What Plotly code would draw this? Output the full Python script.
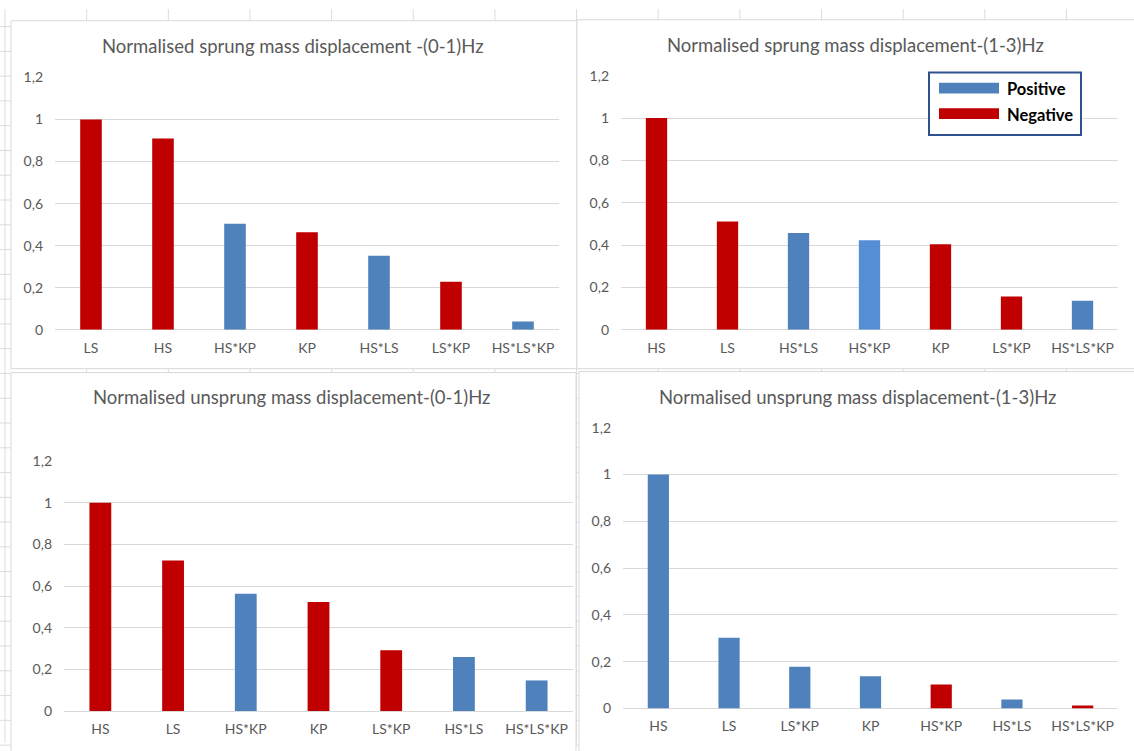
import plotly.graph_objects as go

# ---- data -------------------------------------------------------------
titles = [
    "Normalised sprung mass displacement -(0-1)Hz",
    "Normalised sprung mass displacement-(1-3)Hz",
    "Normalised unsprung mass displacement-(0-1)Hz",
    "Normalised unsprung mass displacement-(1-3)Hz",
]

sprung_low_factors = ["LS", "HS", "HS*KP", "KP", "HS*LS", "LS*KP", "HS*LS*KP"]
sprung_low_values = [1.0, 0.91, 0.505, 0.464, 0.352, 0.229, 0.04]
sprung_low_signs = ["-", "-", "+", "-", "+", "-", "+"]

sprung_high_factors = ["HS", "LS", "HS*LS", "HS*KP", "KP", "LS*KP", "HS*LS*KP"]
sprung_high_values = [1.0, 0.512, 0.457, 0.423, 0.404, 0.157, 0.138]
sprung_high_signs = ["-", "-", "+", "+", "-", "-", "+"]

unsprung_low_factors = ["HS", "LS", "HS*KP", "KP", "LS*KP", "HS*LS", "HS*LS*KP"]
unsprung_low_values = [1.0, 0.723, 0.563, 0.524, 0.292, 0.26, 0.147]
unsprung_low_signs = ["-", "-", "+", "-", "-", "+", "+"]

unsprung_high_factors = ["HS", "LS", "LS*KP", "KP", "HS*KP", "HS*LS", "HS*LS*KP"]
unsprung_high_values = [1.0, 0.302, 0.178, 0.138, 0.102, 0.038, 0.013]
unsprung_high_signs = ["+", "+", "+", "+", "-", "+", "-"]

y_ticks = [0, 0.2, 0.4, 0.6, 0.8, 1.0, 1.2]
y_tick_text = ["0", "0,2", "0,4", "0,6", "0,8", "1", "1,2"]

legend_labels = ["Positive", "Negative"]

# ---- style ------------------------------------------------------------
W, H = 1134, 751
POS = "#4F81BD"
POS_LIGHT = "#558ED5"
NEG = "#C00000"
GRID = "#D9D9D9"
SHEET = "#DCDCDC"
TEXT = "#595959"
FONT = "Lato, 'Open Sans', sans-serif"

sign_color = {"+": POS, "-": NEG}


def px_x(x):
    return x / W


def px_y(y):
    return 1 - y / H


panels = [
    # factors, values, signs, plot box (left, right, top, bottom) in px,
    # title centre, panel frame
    dict(f=sprung_low_factors, v=sprung_low_values, s=sprung_low_signs,
         box=(55, 559, 70, 328.3), tc=(293, 38), frame=(11, 577, 12, 368)),
    dict(f=sprung_high_factors, v=sprung_high_values, s=sprung_high_signs,
         box=(621, 1118, 68.3, 328.3), tc=(855, 37), frame=(577, 1160, 11, 368)),
    dict(f=unsprung_low_factors, v=unsprung_low_values, s=unsprung_low_signs,
         box=(64, 573, 462.7, 718.3), tc=(291, 397), frame=(11, 576, 372, 770)),
    dict(f=unsprung_high_factors, v=unsprung_high_values, s=unsprung_high_signs,
         box=(623, 1118, 428.3, 715.7), tc=(857, 397), frame=(579, 1160, 371, 770)),
]

fig = go.Figure()
shapes = []
annotations = []

# worksheet cell lines behind the charts
for k in range(15):
    cx = 5 + 81.65 * k
    shapes.append(dict(type="line", xref="paper", yref="paper", layer="below",
                       x0=px_x(cx), x1=px_x(cx), y0=0, y1=1,
                       line=dict(color=SHEET, width=1)))
for k in range(31):
    ry = 18 + 25.35 * k
    shapes.append(dict(type="line", xref="paper", yref="paper", layer="below",
                       x0=0, x1=1, y0=px_y(ry), y1=px_y(ry),
                       line=dict(color=SHEET, width=1)))

for i, p in enumerate(panels, start=1):
    xa = "x" if i == 1 else f"x{i}"
    ya = "y" if i == 1 else f"y{i}"
    colors = [sign_color[s] for s in p["s"]]
    if i == 2:
        colors[p["f"].index("HS*KP")] = POS_LIGHT
    fig.add_trace(go.Bar(
        x=p["f"], y=p["v"], xaxis=xa, yaxis=ya,
        marker=dict(color=colors, line=dict(width=0)),
        showlegend=False, hoverinfo="x+y",
    ))
    l, r, t, b = p["box"]
    fig.layout[f"xaxis{'' if i == 1 else i}"] = dict(
        domain=[px_x(l), px_x(r)], anchor=ya, type="category",
        showgrid=False, showline=False, zeroline=False, ticks="",
        tickfont=dict(family=FONT, size=14, color=TEXT),
        ticklabelstandoff=8, fixedrange=True,
    )
    fig.layout[f"yaxis{'' if i == 1 else i}"] = dict(
        domain=[px_y(b), px_y(t)], anchor=xa, range=[0, 1.2],
        tickvals=y_ticks, ticktext=y_tick_text,
        showgrid=True, gridcolor=GRID, gridwidth=1,
        zeroline=True, zerolinecolor=GRID, zerolinewidth=1,
        showline=False, ticks="",
        tickfont=dict(family=FONT, size=14, color=TEXT),
        ticklabelstandoff=11, fixedrange=True,
    )
    fl, fr, ft, fb = p["frame"]
    shapes.append(dict(type="rect", xref="paper", yref="paper", layer="below",
                       x0=px_x(fl), x1=px_x(fr), y0=px_y(fb), y1=px_y(ft),
                       fillcolor="white", line=dict(color=GRID, width=1)))
    annotations.append(dict(
        text=titles[i - 1], xref="paper", yref="paper",
        x=px_x(p["tc"][0]), y=px_y(p["tc"][1]), xanchor="center", yanchor="middle",
        showarrow=False, font=dict(family=FONT, size=18.5, color=TEXT),
    ))

# legend box in the top-right chart
shapes.append(dict(type="rect", xref="paper", yref="paper",
                   x0=px_x(929), x1=px_x(1081), y0=px_y(129), y1=px_y(65),
                   fillcolor="white", line=dict(color="#2F528F", width=2)))
for label, color, yc in zip(legend_labels, [POS, NEG], [81, 107]):
    shapes.append(dict(type="rect", xref="paper", yref="paper",
                       x0=px_x(939), x1=px_x(999), y0=px_y(yc + 5.5), y1=px_y(yc - 5.5),
                       fillcolor=color, line=dict(width=0)))
    annotations.append(dict(
        text=f"<b>{label}</b>", xref="paper", yref="paper",
        x=px_x(1005), y=px_y(yc + 1), xanchor="left", yanchor="middle",
        showarrow=False, font=dict(family=FONT, size=16.5, color="#000000"),
    ))

fig.update_layout(
    width=W, height=H,
    margin=dict(l=0, r=0, t=0, b=0),
    paper_bgcolor="white", plot_bgcolor="rgba(0,0,0,0)",
    bargap=0.7,
    shapes=shapes, annotations=annotations,
    showlegend=False,
)

fig.write_html("out.html")
